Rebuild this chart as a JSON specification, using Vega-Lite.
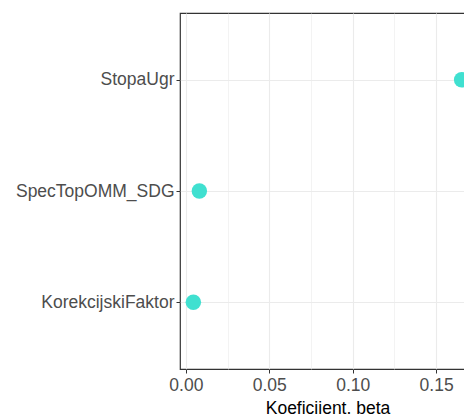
{
  "$schema": "https://vega.github.io/schema/vega-lite/v6.json",
  "width": 295,
  "height": 356,
  "autosize": {"type": "none"},
  "padding": {"left": 180, "top": 13, "right": 0, "bottom": 45},
  "background": "white",
  "config": {
    "font": "Liberation Sans",
    "view": {"stroke": "#333333", "strokeWidth": 1.2}
  },
  "data": {
    "values": [
      {"var": "StopaUgr", "beta": 0.1653},
      {"var": "SpecTopOMM_SDG", "beta": 0.0081},
      {"var": "KorekcijskiFaktor", "beta": 0.0045}
    ]
  },
  "mark": {"type": "circle", "size": 240, "opacity": 1, "color": "#40E0D0"},
  "encoding": {
    "x": {
      "field": "beta",
      "type": "quantitative",
      "scale": {"domain": [-0.0035, 0.1733], "nice": false, "zero": false},
      "axis": {
        "title": "Koeficijent, beta",
        "titleFont": "Liberation Sans",
        "titleFontSize": 17.5,
        "titleFontWeight": "normal",
        "titleColor": "#000000",
        "titlePadding": 6,
        "values": [0, 0.025, 0.05, 0.075, 0.1, 0.125, 0.15, 0.175],
        "labelExpr": "(round(datum.value*1000) % 50 == 0) ? format(datum.value, '.2f') : ''",
        "labelFontSize": 17.5,
        "labelColor": "#4D4D4D",
        "labelPadding": 3,
        "tickColor": "#333333",
        "tickSize": 4,
        "tickOpacity": {"condition": {"test": "round(datum.value*1000) % 50 == 0", "value": 1}, "value": 0},
        "domain": false,
        "grid": true,
        "gridColor": "#EBEBEB",
        "gridWidth": {"condition": {"test": "round(datum.value*1000) % 50 == 0", "value": 1.1}, "value": 0.6}
      }
    },
    "y": {
      "field": "var",
      "type": "nominal",
      "sort": ["StopaUgr", "SpecTopOMM_SDG", "KorekcijskiFaktor"],
      "scale": {"type": "point", "padding": 0.6},
      "axis": {
        "title": null,
        "labelFontSize": 17.5,
        "labelColor": "#4D4D4D",
        "labelPadding": 2,
        "tickColor": "#333333",
        "tickSize": 4,
        "domain": false,
        "grid": true,
        "gridColor": "#EBEBEB",
        "gridWidth": 1.1
      }
    }
  }
}
